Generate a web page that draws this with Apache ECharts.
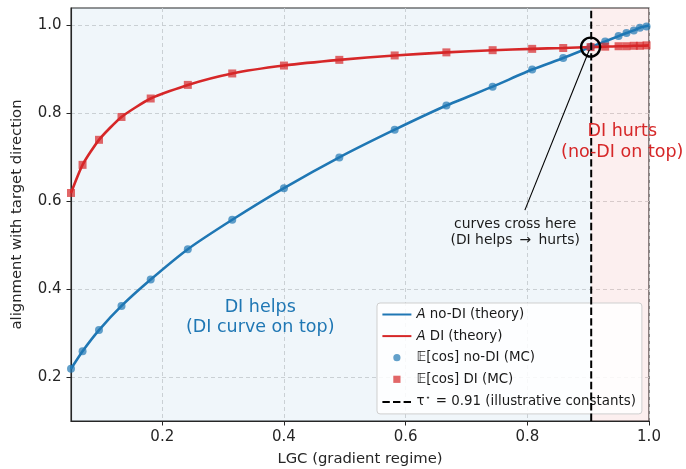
<!DOCTYPE html>
<html><head><meta charset="utf-8">
<script src="https://cdn.jsdelivr.net/npm/echarts@6/dist/echarts.min.js"></script>
<style>html,body{margin:0;padding:0;background:#fff}#c{width:686px;height:469px}</style>
</head><body><div id="c"></div>
<script>
// ---- data ----
const xMC      = [0.05, 0.069, 0.096, 0.133, 0.181, 0.242, 0.315, 0.400, 0.491, 0.582, 0.667, 0.743, 0.808, 0.859, 0.904, 0.928, 0.950, 0.963, 0.975, 0.985, 0.996];
const noDiMC   = [0.219, 0.259, 0.307, 0.362, 0.422, 0.491, 0.558, 0.630, 0.700, 0.763, 0.818, 0.861, 0.900, 0.926, 0.951, 0.964, 0.976, 0.983, 0.989, 0.995, 0.998];
const diMC     = [0.619, 0.683, 0.740, 0.792, 0.834, 0.865, 0.891, 0.909, 0.922, 0.932, 0.939, 0.944, 0.947, 0.949, 0.951, 0.952, 0.953, 0.953, 0.954, 0.954, 0.955];
const xTheory    = [0.05, 0.069, 0.096, 0.133, 0.181, 0.242, 0.315, 0.400, 0.491, 0.582, 0.667, 0.743, 0.808, 0.859, 0.904, 0.928, 0.950, 0.963, 0.975, 0.985, 1.0];
const noDiTheory = [0.219, 0.259, 0.307, 0.362, 0.422, 0.491, 0.558, 0.630, 0.700, 0.763, 0.818, 0.861, 0.900, 0.926, 0.951, 0.964, 0.976, 0.983, 0.989, 0.995, 1.0];
const diTheory   = [0.619, 0.683, 0.740, 0.792, 0.834, 0.865, 0.891, 0.909, 0.922, 0.932, 0.939, 0.944, 0.947, 0.949, 0.951, 0.952, 0.953, 0.953, 0.954, 0.954, 0.955];
const tauStar = 0.905;
const crossPoint = [0.904, 0.951];
const xTicks = [0.2, 0.4, 0.6, 0.8, 1.0];
const yTicks = [0.2, 0.4, 0.6, 0.8, 1.0];
const seriesNames = ['A no-DI (theory)', 'A DI (theory)', 'E[cos] no-DI (MC)', 'E[cos] DI (MC)', 'tau* = 0.91 (illustrative constants)'];
const legendLabels = {
  'A no-DI (theory)': '{i|A}{t| no-DI (theory)}',
  'A DI (theory)': '{i|A}{t| DI (theory)}',
  'E[cos] no-DI (MC)': '{t|𝔼[cos] no-DI (MC)}',
  'E[cos] DI (MC)': '{t|𝔼[cos] DI (MC)}',
  'tau* = 0.91 (illustrative constants)': '{t|τ}{s|⋆}{t| = 0.91 (illustrative constants)}'
};

const FONT = 'DejaVu Sans';
const BLUE = '#1f77b4', RED = '#d62728', INK = '#262626';
const zip = (xs, ys) => xs.map((x, i) => [x, ys[i]]);

const chart = echarts.init(document.getElementById('c'), null, {renderer: 'canvas'});
const axisCommon = {
  type: 'value',
  axisLine: {show: true, lineStyle: {color: INK, width: 1.1}},
  axisTick: {show: true, length: 4.5, lineStyle: {color: INK, width: 1}},
  axisLabel: {color: INK, fontFamily: FONT, fontSize: 15, formatter: v => v.toFixed(1)},
  splitLine: {show: true, lineStyle: {color: '#d3d3d3', width: 0.9, type: [4, 3]}},
  nameTextStyle: {color: INK, fontFamily: FONT, fontSize: 14.8},
  nameLocation: 'middle'
};
const richBase = {fontFamily: FONT, fontSize: 13.4, color: '#1a1a1a'};

chart.setOption({
  animation: false,
  backgroundColor: '#fff',
  grid: {left: 71, right: 37, top: 8, bottom: 48, show: true, borderColor: INK, borderWidth: 1.1,
         backgroundColor: 'transparent', containLabel: false, outerBoundsMode: 'none'},
  xAxis: Object.assign({}, axisCommon, {
    min: 0.05, max: 1.0,
    name: 'LGC (gradient regime)', nameGap: 31,
    axisTick: Object.assign({}, axisCommon.axisTick, {customValues: xTicks}),
    axisLabel: Object.assign({}, axisCommon.axisLabel, {customValues: xTicks, margin: 9})
  }),
  yAxis: Object.assign({}, axisCommon, {
    min: 0.1, max: 1.04,
    name: 'alignment with target direction', nameGap: 46,
    axisTick: Object.assign({}, axisCommon.axisTick, {customValues: yTicks}),
    axisLabel: Object.assign({}, axisCommon.axisLabel, {customValues: yTicks, margin: 9.5})
  }),
  legend: {
    orient: 'vertical', left: 377, top: 303,
    padding: [5, 6, 5.5, 4.4],
    itemWidth: 29, itemHeight: 9, itemGap: 8.6,
    backgroundColor: 'rgba(255,255,255,0.85)', borderColor: '#cfcfcf', borderWidth: 1, borderRadius: 3,
    selectedMode: false,
    textStyle: {fontFamily: FONT, fontSize: 13.4, color: '#1a1a1a',
      rich: {
        t: richBase,
        i: Object.assign({}, richBase, {fontStyle: 'italic'}),
        s: Object.assign({}, richBase, {fontSize: 8, padding: [0, 1, 7, 1]})
      }},
    formatter: n => legendLabels[n],
    data: [
      {name: seriesNames[0], itemStyle: {opacity: 0}},
      {name: seriesNames[1], itemStyle: {opacity: 0}},
      {name: seriesNames[2], lineStyle: {opacity: 0}},
      {name: seriesNames[3], lineStyle: {opacity: 0}},
      {name: seriesNames[4], itemStyle: {opacity: 0}}
    ]
  },
  series: [
    {
      name: seriesNames[0], type: 'line', data: zip(xTheory, noDiTheory),
      smooth: 0.2, showSymbol: false, symbol: 'circle', z: 3,
      lineStyle: {color: BLUE, width: 2.6}, itemStyle: {color: BLUE},
      markArea: {silent: true, z: 0, data: [
        [{xAxis: 0.05, itemStyle: {color: 'rgba(31,119,180,0.065)'}}, {xAxis: tauStar}],
        [{xAxis: tauStar, itemStyle: {color: 'rgba(214,39,40,0.075)'}}, {xAxis: 1.0}]
      ]}
    },
    {
      name: seriesNames[1], type: 'line', data: zip(xTheory, diTheory),
      smooth: 0.2, showSymbol: false, symbol: 'circle', z: 3,
      lineStyle: {color: RED, width: 2.6}, itemStyle: {color: RED}
    },
    {
      name: seriesNames[2], type: 'line', data: zip(xMC, noDiMC),
      symbol: 'circle', symbolSize: 8, showSymbol: true, z: 4,
      lineStyle: {width: 0, opacity: 0, color: BLUE}, itemStyle: {color: BLUE, opacity: 0.7}
    },
    {
      name: seriesNames[3], type: 'line', data: zip(xMC, diMC),
      symbol: 'rect', symbolSize: 8, showSymbol: true, z: 4,
      lineStyle: {width: 0, opacity: 0, color: RED}, itemStyle: {color: RED, opacity: 0.7}
    },
    {
      name: seriesNames[4], type: 'line', data: [[tauStar, 0.1], [tauStar, 1.04]],
      symbol: 'none', z: 5,
      lineStyle: {color: '#000', width: 2, type: [7.4, 3.2]}, itemStyle: {color: '#000'}
    },
    {
      name: 'crossing', type: 'line', data: [crossPoint],
      symbol: 'circle', symbolSize: 19, showSymbol: true, z: 6,
      itemStyle: {color: 'rgba(0,0,0,0)', borderColor: '#000', borderWidth: 2.4}
    },
    {
      name: 'annotation', type: 'line', data: [[0.902, 0.945], [0.796, 0.580]],
      symbol: 'none', z: 6,
      lineStyle: {color: '#000', width: 1.1}
    }
  ]
});

const p = (x, y) => chart.convertToPixel({gridIndex: 0}, [x, y]);
const helps = p(0.361, 0.336), hurts = p(0.956, 0.735), note = p(0.780, 0.530);
chart.setOption({
  graphic: [
    {type: 'text', x: helps[0], y: helps[1], z: 10, style: {text: 'DI helps\n(DI curve on top)', fill: BLUE, font: '17.5px "DejaVu Sans"', align: 'center', verticalAlign: 'middle', lineHeight: 20.6}},
    {type: 'text', x: hurts[0], y: hurts[1], z: 10, style: {text: 'DI hurts\n(no-DI on top)', fill: RED, font: '17.5px "DejaVu Sans"', align: 'center', verticalAlign: 'middle', lineHeight: 20.6}},
    {type: 'text', x: note[0], y: note[1], z: 10, style: {text: 'curves cross here\n(DI helps \u2009→\u2009 hurts)', fill: '#1a1a1a', font: '13.9px "DejaVu Sans"', align: 'center', verticalAlign: 'middle', lineHeight: 16}}
  ]
});
</script>
</body></html>
